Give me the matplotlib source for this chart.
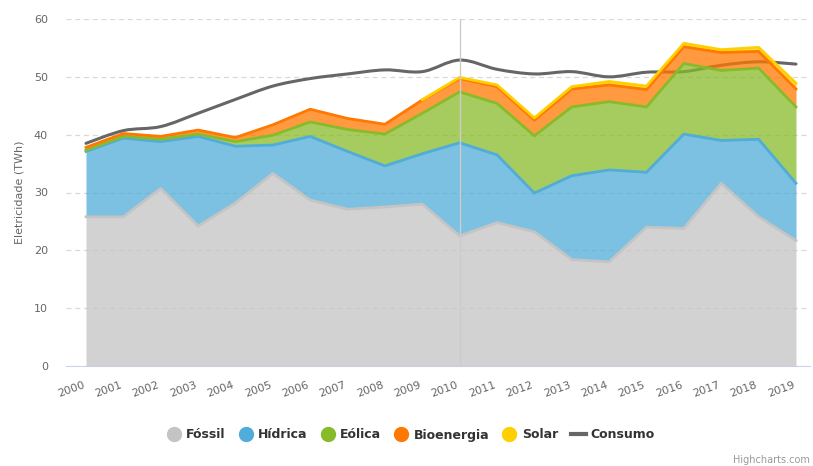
import matplotlib
matplotlib.use('Agg')
from matplotlib import pyplot as plt
from matplotlib.path import Path
from matplotlib.patches import PathPatch
from matplotlib.lines import Line2D
import numpy as np

years = list(range(2000, 2020))

fossil = [25.8, 25.8, 30.7, 24.2, 28.2, 33.3, 28.7, 27.1, 27.5, 28.0,
          22.5, 24.8, 23.2, 18.4, 18.0, 24.0, 23.8, 31.6, 25.8, 21.7]
hidrica = [11.3, 13.6, 8.1, 15.5, 9.8, 4.9, 11.0, 10.0, 7.1, 8.7,
           16.1, 11.7, 6.7, 14.5, 15.9, 9.5, 16.3, 7.4, 13.4, 9.9]
eolica = [0.2, 0.3, 0.4, 0.4, 0.8, 1.7, 2.5, 3.8, 5.5, 7.0,
          8.8, 8.9, 9.9, 11.9, 11.8, 11.3, 12.2, 12.1, 12.3, 13.2]
bioenergia = [0.5, 0.5, 0.5, 0.7, 0.7, 1.8, 2.2, 1.9, 1.7, 2.3,
              2.3, 2.9, 2.7, 3.1, 2.9, 3.0, 2.9, 3.1, 2.9, 3.1]
# no solar data before 2009
solar = [None] * 9 + [0.05, 0.2, 0.3, 0.4, 0.4, 0.6, 0.6, 0.6, 0.5, 0.7, 1.0]
consumo = [38.5, 40.7, 41.4, 43.7, 46.1, 48.4, 49.7, 50.5, 51.2, 50.9,
           52.9, 51.3, 50.5, 50.9, 50.0, 50.8, 50.9, 52.0, 52.6, 52.2]

names = ['Fóssil', 'Hídrica', 'Eólica', 'Bioenergia', 'Solar']
colors = ['#c4c4c4', '#50acd8', '#88bb2a', '#ff7800', '#ffd000']
series = [fossil, hidrica, eolica, bioenergia, solar]

fig = plt.figure(figsize=(8.13, 4.66), dpi=100)
ax = fig.add_axes([66/813, 100/466, 744/813, 347/466])

# consumo drawn first (areas are semi transparent over it), as a smooth spline
x = np.array(years, dtype=float)
y = np.array(consumo)
verts = [(x[0], y[0])]
codes = [Path.MOVETO]
for i in range(len(x) - 1):
    p0 = np.array([x[max(i-1, 0)], y[max(i-1, 0)]])
    p1 = np.array([x[i], y[i]])
    p2 = np.array([x[i+1], y[i+1]])
    p3 = np.array([x[min(i+2, len(x)-1)], y[min(i+2, len(x)-1)]])
    c1 = p1 + (p2 - p0) / 6
    c2 = p2 - (p3 - p1) / 6
    verts += [tuple(c1), tuple(c2), tuple(p2)]
    codes += [Path.CURVE4] * 3
ax.add_patch(PathPatch(Path(verts, codes), facecolor='none', edgecolor='#666666',
                       lw=2.2, zorder=2, capstyle='round'))

bottom = np.zeros(len(years))
for name, col, vals in zip(names, colors, series):
    arr = np.array([np.nan if v is None else v for v in vals], dtype=float)
    top = bottom + np.nan_to_num(arr)
    ax.fill_between(years, bottom, top, color=col, alpha=0.75, lw=0, zorder=3)
    ax.plot(years, np.where(np.isnan(arr), np.nan, top), color=col, lw=2, zorder=4)
    bottom = top

ax.axvline(2010, color='#cccccc', lw=1, zorder=5)

ax.set_xlim(2000 - 0.535, 2019 + 0.375)
ax.set_ylim(0, 60)
ax.set_yticks(range(0, 61, 10))
ax.set_xticks(years)
ax.set_xticklabels([str(v) for v in years], rotation=20, ha='right')
ax.tick_params(axis='x', length=0, pad=10, labelsize=8, colors='#666666')
ax.tick_params(axis='y', length=0, pad=13, labelsize=8, colors='#666666')

ax.grid(axis='y', color='#d8d8d8', ls=(0, (4, 3)), lw=0.9)
ax.set_axisbelow(True)
for s in ['top', 'right', 'left']:
    ax.spines[s].set_visible(False)
ax.spines['bottom'].set_color('#ccd6eb')
ax.set_ylabel('Eletricidade (TWh)', color='#666666', fontsize=8, labelpad=7)

handles = [Line2D([], [], ls='none', marker='o', markersize=10, color=c) for c in colors]
handles.append(Line2D([], [], color='#666666', lw=3))
fig.legend(handles, names + ['Consumo'], loc='center', bbox_to_anchor=(0.505, 1 - 435/466),
           ncol=6, frameon=False, handlelength=1.2, handletextpad=0.4, columnspacing=1.0,
           prop={'weight': 'bold', 'size': 9}, labelcolor='#333333')

fig.text(810/813, 1 - 460/466, 'Highcharts.com', ha='right', va='center', fontsize=7, color='#999999')

plt.savefig('out.png')
plt.close()
